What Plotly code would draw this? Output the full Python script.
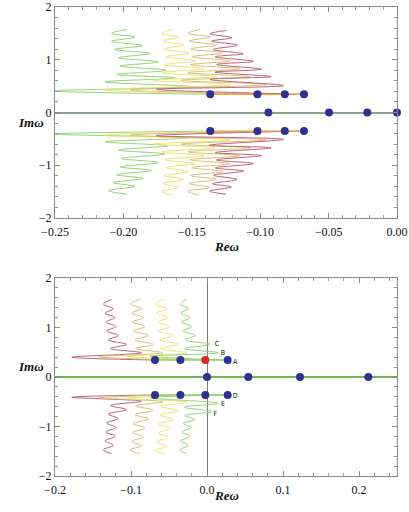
import plotly.graph_objects as go

# ---------------- TOP PANEL DATA ----------------
top_re_dots_x = [-0.094, -0.0497, -0.0217, 0.0]
top_re_dots_y = [0.0, 0.0, 0.0, 0.0]
top_up_dots_x = [-0.1365, -0.102, -0.082, -0.068]
top_up_dots_y = [0.345, 0.345, 0.345, 0.345]
top_lo_dots_x = [-0.1365, -0.102, -0.082, -0.068]
top_lo_dots_y = [-0.352, -0.352, -0.352, -0.352]

# upper branches (dot -> spike -> zigzag to top)
tG_up_x = [-0.1365, -0.252, -0.150, -0.2135, -0.162, -0.2049, -0.1684, -0.2025, -0.1745, -0.2037, -0.1806, -0.2066, -0.1862, -0.2086, -0.1915, -0.2086, -0.1976]
tG_up_y = [0.345, 0.41, 0.49, 0.58, 0.657, 0.72, 0.80, 0.88, 0.96, 1.037, 1.12, 1.195, 1.27, 1.35, 1.43, 1.50, 1.575]
tY_up_x = [-0.102, -0.215, -0.122, -0.178, -0.132, -0.172, -0.141, -0.170, -0.147, -0.169, -0.152, -0.170, -0.156, -0.171, -0.160, -0.172, -0.1635]
tY_up_y = [0.345, 0.43, 0.53, 0.61, 0.68, 0.755, 0.83, 0.905, 0.98, 1.055, 1.13, 1.205, 1.28, 1.355, 1.43, 1.50, 1.575]
tT_up_x = [-0.082, -0.195, -0.095, -0.158, -0.1075, -0.153, -0.1148, -0.151, -0.122, -0.150, -0.1272, -0.151, -0.1318, -0.152, -0.1367, -0.153, -0.144]
tT_up_y = [0.345, 0.43, 0.53, 0.61, 0.68, 0.755, 0.83, 0.905, 0.98, 1.055, 1.13, 1.205, 1.28, 1.355, 1.43, 1.50, 1.575]
tM_up_x = [-0.068, -0.176, -0.083, -0.1367, -0.092, -0.133, -0.099, -0.1318, -0.105, -0.133, -0.1124, -0.1343, -0.1167, -0.1355, -0.1208, -0.1367, -0.1245]
tM_up_y = [0.345, 0.44, 0.51, 0.626, 0.68, 0.765, 0.82, 0.911, 0.97, 1.057, 1.114, 1.195, 1.277, 1.353, 1.417, 1.493, 1.556]

# lower branches
tG_lo_x = [-0.1365, -0.252, -0.152, -0.2135, -0.1672, -0.2037, -0.1696, -0.2013, -0.1745, -0.2025, -0.1794, -0.2049, -0.1855, -0.2074, -0.1915, -0.211, -0.1976]
tG_lo_y = [-0.352, -0.41, -0.48, -0.556, -0.632, -0.71, -0.79, -0.87, -0.95, -1.03, -1.10, -1.18, -1.25, -1.33, -1.40, -1.48, -1.55]
tY_lo_x = [-0.102, -0.215, -0.122, -0.178, -0.133, -0.172, -0.141, -0.170, -0.147, -0.169, -0.152, -0.170, -0.156, -0.171, -0.160, -0.172, -0.164]
tY_lo_y = [-0.352, -0.43, -0.52, -0.60, -0.67, -0.745, -0.82, -0.895, -0.97, -1.045, -1.12, -1.195, -1.27, -1.345, -1.42, -1.495, -1.565]
tT_lo_x = [-0.082, -0.195, -0.096, -0.158, -0.107, -0.153, -0.115, -0.151, -0.122, -0.150, -0.127, -0.151, -0.132, -0.152, -0.137, -0.153, -0.145]
tT_lo_y = [-0.352, -0.43, -0.52, -0.60, -0.67, -0.745, -0.82, -0.895, -0.97, -1.045, -1.12, -1.195, -1.27, -1.345, -1.42, -1.495, -1.565]
tM_lo_x = [-0.068, -0.176, -0.083, -0.137, -0.092, -0.133, -0.099, -0.132, -0.105, -0.133, -0.112, -0.134, -0.117, -0.135, -0.121, -0.137, -0.125]
tM_lo_y = [-0.352, -0.44, -0.51, -0.62, -0.67, -0.76, -0.816, -0.90, -0.968, -1.05, -1.11, -1.19, -1.27, -1.35, -1.41, -1.49, -1.55]

# ---------------- BOTTOM PANEL DATA ----------------
bot_re_dots_x = [0.0, 0.0544, 0.1224, 0.2123]
bot_re_dots_y = [0.0, 0.0, 0.0, 0.0]
bot_up_dots_x = [-0.0684, -0.035, 0.0272]
bot_up_dots_y = [0.343, 0.343, 0.343]
bot_red_dot_x = [-0.0022]
bot_red_dot_y = [0.343]
bot_lo_dots_x = [-0.0684, -0.035, -0.0022, 0.0272]
bot_lo_dots_y = [-0.364, -0.364, -0.364, -0.364]

bM_up_x = [-0.0684, -0.178, -0.086, -0.127, -0.106, -0.130, -0.1167, -0.132, -0.1197, -0.133, -0.1211, -0.1342, -0.1232, -0.1364, -0.1254]
bM_up_y = [0.343, 0.40, 0.49, 0.575, 0.66, 0.75, 0.84, 0.93, 1.02, 1.11, 1.20, 1.29, 1.38, 1.47, 1.57]
bT_up_x = [-0.035, -0.142, -0.058, -0.094, -0.0707, -0.0947, -0.0772, -0.097, -0.0816, -0.0978, -0.0838, -0.0991, -0.086, -0.1013, -0.0882]
bT_up_y = [0.343, 0.41, 0.49, 0.575, 0.66, 0.75, 0.84, 0.93, 1.02, 1.11, 1.20, 1.29, 1.38, 1.47, 1.57]
bY_up_x = [-0.0022, -0.105, -0.026, -0.061, -0.0378, -0.0618, -0.0443, -0.064, -0.0487, -0.064, -0.0509, -0.0662, -0.053, -0.0684, -0.0553]
bY_up_y = [0.343, 0.42, 0.49, 0.575, 0.66, 0.75, 0.84, 0.93, 1.02, 1.11, 1.20, 1.29, 1.38, 1.47, 1.57]
bG_up_x = [0.0272, -0.075, 0.015, -0.030, 0.004, -0.029, -0.0158, -0.0312, -0.0201, -0.0333, -0.0224, -0.0345, -0.0245, -0.0355, -0.0267]
bG_up_y = [0.343, 0.42, 0.49, 0.575, 0.66, 0.75, 0.84, 0.93, 1.02, 1.11, 1.20, 1.29, 1.38, 1.47, 1.57]

bM_lo_x = [-0.0684, -0.178, -0.086, -0.127, -0.106, -0.130, -0.1167, -0.132, -0.1197, -0.133, -0.1211, -0.1342, -0.1232, -0.1364, -0.1254]
bM_lo_y = [-0.364, -0.41, -0.49, -0.575, -0.66, -0.75, -0.84, -0.93, -1.02, -1.11, -1.20, -1.29, -1.38, -1.47, -1.55]
bT_lo_x = [-0.035, -0.142, -0.058, -0.094, -0.0707, -0.0947, -0.0772, -0.097, -0.0816, -0.0978, -0.0838, -0.0991, -0.086, -0.1013, -0.0882]
bT_lo_y = [-0.364, -0.42, -0.50, -0.585, -0.67, -0.76, -0.85, -0.94, -1.03, -1.12, -1.21, -1.30, -1.39, -1.47, -1.55]
bY_lo_x = [-0.0022, -0.105, -0.026, -0.061, -0.0378, -0.0618, -0.0443, -0.064, -0.0487, -0.064, -0.0509, -0.0662, -0.053, -0.0684, -0.0553]
bY_lo_y = [-0.364, -0.43, -0.51, -0.595, -0.68, -0.77, -0.86, -0.95, -1.04, -1.13, -1.22, -1.31, -1.40, -1.48, -1.56]
bG_lo_x = [0.0272, -0.075, 0.015, -0.030, 0.007, -0.029, -0.0158, -0.0312, -0.0201, -0.0333, -0.0224, -0.0345, -0.0245, -0.0355, -0.0267]
bG_lo_y = [-0.364, -0.42, -0.53, -0.61, -0.70, -0.78, -0.86, -0.94, -1.02, -1.11, -1.20, -1.29, -1.38, -1.47, -1.55]

branch_labels = ["C", "B", "A", "D", "E", "F"]
branch_label_x = [0.013, 0.021, 0.037, 0.037, 0.021, 0.011]
branch_label_y = [0.66, 0.48, 0.30, -0.39, -0.55, -0.76]

# ---------------- STYLE ----------------
C_G = "#98d27c"
C_Y = "#e8e676"
C_T = "#dcbf7a"
C_M = "#b8667a"
C_LINK = "#e8a040"
C_DOT = "#2e3190"
C_RED = "#e3242b"
SERIF = "Liberation Serif, Times New Roman, DejaVu Serif, serif"

fig = go.Figure()

def path(x, y, color, xa, ya, w=1.0):
    fig.add_trace(go.Scatter(x=x, y=y, mode="lines", xaxis=xa, yaxis=ya, hoverinfo="skip",
                             line=dict(color=color, width=w, shape="spline", smoothing=1.0),
                             showlegend=False))

def dots(x, y, color, xa, ya):
    fig.add_trace(go.Scatter(x=x, y=y, mode="markers", xaxis=xa, yaxis=ya, cliponaxis=False,
                             marker=dict(color=color, size=8, line=dict(width=0)), showlegend=False))

# top panel
for (x, y, c) in [(tG_up_x, tG_up_y, C_G), (tY_up_x, tY_up_y, C_Y), (tT_up_x, tT_up_y, C_T), (tM_up_x, tM_up_y, C_M),
                  (tG_lo_x, tG_lo_y, C_G), (tY_lo_x, tY_lo_y, C_Y), (tT_lo_x, tT_lo_y, C_T), (tM_lo_x, tM_lo_y, C_M)]:
    path(x, y, c, "x", "y")
fig.add_trace(go.Scatter(x=top_up_dots_x, y=top_up_dots_y, mode="lines", xaxis="x", yaxis="y",
                         line=dict(color=C_LINK, width=1.3), showlegend=False))
fig.add_trace(go.Scatter(x=top_lo_dots_x, y=top_lo_dots_y, mode="lines", xaxis="x", yaxis="y",
                         line=dict(color=C_LINK, width=1.3), showlegend=False))
dots(top_re_dots_x, top_re_dots_y, C_DOT, "x", "y")
dots(top_up_dots_x, top_up_dots_y, C_DOT, "x", "y")
dots(top_lo_dots_x, top_lo_dots_y, C_DOT, "x", "y")

# bottom panel
for (x, y, c) in [(bM_up_x, bM_up_y, C_M), (bT_up_x, bT_up_y, C_T), (bY_up_x, bY_up_y, C_Y), (bG_up_x, bG_up_y, C_G),
                  (bM_lo_x, bM_lo_y, C_M), (bT_lo_x, bT_lo_y, C_T), (bY_lo_x, bY_lo_y, C_Y), (bG_lo_x, bG_lo_y, C_G)]:
    path(x, y, c, "x2", "y2")
fig.add_trace(go.Scatter(x=bot_up_dots_x, y=bot_up_dots_y, mode="lines", xaxis="x2", yaxis="y2",
                         line=dict(color="#8fd06a", width=1.3), showlegend=False))
fig.add_trace(go.Scatter(x=bot_lo_dots_x, y=bot_lo_dots_y, mode="lines", xaxis="x2", yaxis="y2",
                         line=dict(color="#8fd06a", width=1.3), showlegend=False))
dots(bot_re_dots_x, bot_re_dots_y, C_DOT, "x2", "y2")
dots(bot_up_dots_x, bot_up_dots_y, C_DOT, "x2", "y2")
dots(bot_lo_dots_x, bot_lo_dots_y, C_DOT, "x2", "y2")
dots(bot_red_dot_x, bot_red_dot_y, C_RED, "x2", "y2")
fig.add_trace(go.Scatter(x=branch_label_x, y=branch_label_y, mode="text", text=branch_labels,
                         xaxis="x2", yaxis="y2", textfont=dict(family="DejaVu Sans Condensed", size=7, color="#111"),
                         showlegend=False))

tickfont = dict(family=SERIF, size=12, color="#111")
common = dict(showline=True, linecolor="#8a8a8a", linewidth=1, mirror="allticks", ticks="inside",
              ticklen=5, tickcolor="#8a8a8a", showgrid=False, tickfont=tickfont, automargin=False)
xdom = [55 / 409, 397 / 409]

fig.update_layout(
    width=409, height=512, margin=dict(l=0, r=0, t=0, b=0, autoexpand=False),
    paper_bgcolor="white", plot_bgcolor="white", showlegend=False,
    xaxis=dict(domain=xdom, range=[-0.25, 0.0], anchor="y", dtick=0.05, tick0=0, tickformat=".2f",
               zeroline=False, ticklabelstandoff=3,
               minor=dict(ticks="inside", ticklen=3, dtick=0.01, tickcolor="#999"), **common),
    yaxis=dict(domain=[1 - 218 / 512, 1 - 7 / 512], range=[-2, 2], anchor="x", dtick=1,
               zeroline=True, zerolinecolor="#8d9f8d", zerolinewidth=2,
               minor=dict(ticks="inside", ticklen=3, dtick=0.2, tickcolor="#999"), **common),
    xaxis2=dict(domain=xdom, range=[-0.2, 0.25], anchor="y2", dtick=0.1, tick0=0, tickformat=".1f",
                zeroline=True, zerolinecolor="#7a7a7a", zerolinewidth=1, ticklabelstandoff=3,
                minor=dict(ticks="inside", ticklen=3, dtick=0.02, tickcolor="#999"), **common),
    yaxis2=dict(domain=[1 - 476 / 512, 1 - 278 / 512], range=[-2, 2], anchor="x2", dtick=1,
                zeroline=True, zerolinecolor="#6fb455", zerolinewidth=1.5,
                minor=dict(ticks="inside", ticklen=3, dtick=0.2, tickcolor="#999"), **common),
    annotations=[
        dict(text="<b><i>Imω</i></b>", x=16 / 409, y=1 - 113 / 512, xref="paper", yref="paper",
             showarrow=False, font=dict(family=SERIF, size=13, color="#111")),
        dict(text="<b><i>Reω</i></b>", x=226 / 409, y=1 - 246 / 512, xref="paper", yref="paper",
             showarrow=False, font=dict(family=SERIF, size=13, color="#111")),
        dict(text="<b><i>Imω</i></b>", x=16 / 409, y=1 - 376 / 512, xref="paper", yref="paper",
             showarrow=False, font=dict(family=SERIF, size=13, color="#111")),
        dict(text="<b><i>Reω</i></b>", x=226 / 409, y=1 - 505 / 512, xref="paper", yref="paper",
             showarrow=False, font=dict(family=SERIF, size=13, color="#111")),
    ],
)

fig.write_html("out.html", config={"displayModeBar": False},
               post_script="document.body.style.margin='0px';document.body.style.padding='0px';")
